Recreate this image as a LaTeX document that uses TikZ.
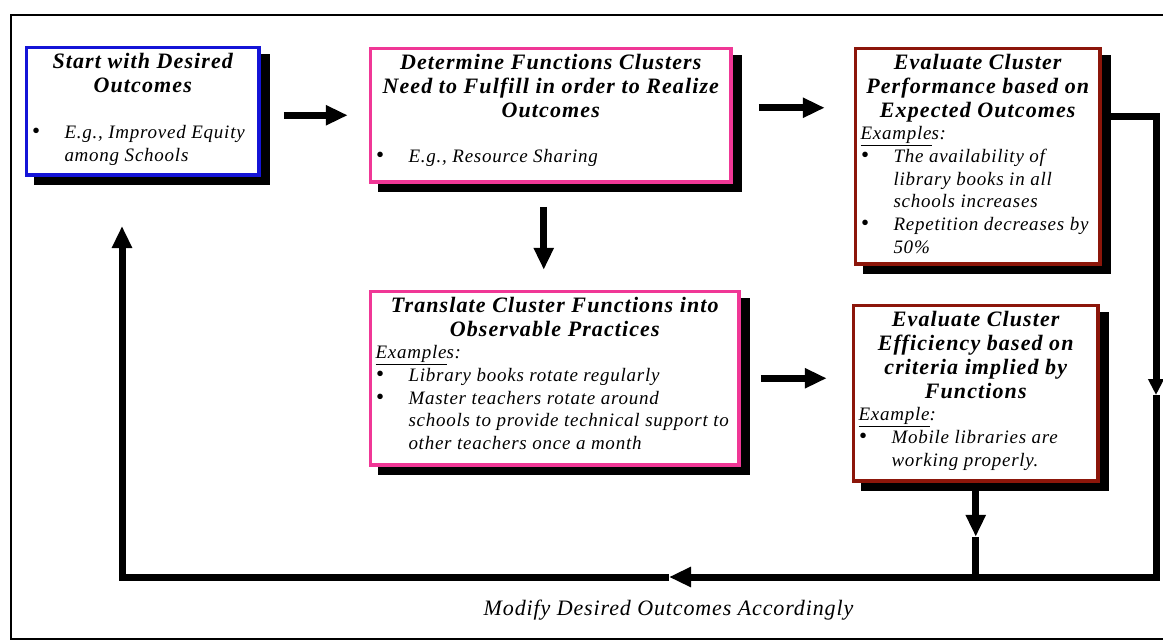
\documentclass[tikz,border=0pt]{standalone}
\usepackage{fontspec}
\setmainfont{Liberation Serif}
\newfontfamily\ttlfont[LetterSpace=5]{Liberation Serif}
\newfontfamily\bodyfont[LetterSpace=4]{Liberation Serif}
\usepackage{xcolor}
\usetikzlibrary{arrows.meta,shadows,calc}
\definecolor{cardblue}{RGB}{20,20,215}
\definecolor{cardpink}{RGB}{240,55,150}
\definecolor{cardbrown}{RGB}{140,22,10}

\newcommand{\cardtitle}[1]{{\centering\ttlfont\bfseries\itshape\fontsize{22}{24}\selectfont\rule{0pt}{17.5pt}#1\par}}
\newcommand{\cardbullet}[1]{{\raggedright\hangindent=33pt\hangafter=1\noindent\makebox[33pt][l]{\hspace{0.5pt}\upshape\fontsize{23}{22}\selectfont\textbullet}#1\par}}
\newcommand{\cardbody}{\bodyfont\itshape\fontsize{19}{22.7}\selectfont}

\begin{document}
\begin{tikzpicture}[x=1pt,y=-1pt,
    card/.style={draw=#1, line width=3.5pt, fill=white, anchor=north west,
        inner xsep=5pt, inner ysep=3pt,
        drop shadow={shadow xshift=9pt, shadow yshift=-8pt, fill=black, draw=black, opacity=1}},
    bigarrow/.style={line width=7pt, -{Triangle[length=22pt,width=19pt]}},
    loopline/.style={line width=7pt}]
    \useasboundingbox (0,0) rectangle (1163,641);
    \draw[line width=2pt] (1163,15) -- (11,15) -- (11,639) -- (1163,639);

    \node[card=cardblue] (start) at (24.75,45.75) {
        \begin{minipage}[t][121.5pt][t]{222.5pt}
            \cardtitle{Start with Desired\\Outcomes}
            \vspace{24pt}
            \cardbody
            \cardbullet{E.g., Improved Equity\newline among Schools}
        \end{minipage}
    };
    \node[card=cardpink] (need) at (368.75,46.75) {
        \begin{minipage}[t][127.5pt][t]{350.5pt}
            \cardtitle{Determine Functions Clusters\\Need to Fulfill in order to Realize\\Outcomes}
            \vspace{23pt}
            \cardbody
            \cardbullet{E.g., Resource Sharing}
        \end{minipage}
    };
    \node[card=cardbrown] (perf) at (853.75,46.75) {
        \begin{minipage}[t][209.5pt][t]{234.5pt}
            \cardtitle{Evaluate Cluster\\Performance based on\\Expected Outcomes}
            \cardbody
            \underline{Example}s:\par
            \cardbullet{The availability of\newline library books in all\newline schools increases}
            \cardbullet{Repetition decreases by\newline 50\%}
        \end{minipage}
    };
    \node[card=cardpink] (practice) at (368.75,289.75) {
        \begin{minipage}[t][167.5pt][t]{358.5pt}
            \cardtitle{Translate Cluster Functions into\\Observable Practices}
            \cardbody
            \underline{Example}s:\par
            \cardbullet{Library books rotate regularly}
            \cardbullet{Master teachers rotate around\newline schools to provide technical support to\newline other teachers once a month}
        \end{minipage}
    };
    \node[card=cardbrown] (effic) at (851.75,303.75) {
        \begin{minipage}[t][169.5pt][t]{234.5pt}
            \cardtitle{Evaluate Cluster\\Efficiency based on\\criteria implied by\\Functions}
            \cardbody
            \underline{Example}:\par
            \cardbullet{Mobile libraries are\newline working properly.}
        \end{minipage}
    };
    \node[anchor=base] (modify) at (668.5,615) {\bodyfont\itshape\fontsize{22}{24}\selectfont Modify Desired Outcomes Accordingly};

    \coordinate (np) at ($(need.east)+(0,-7.5)$);
    \coordinate (dn) at ($(need.south)+(-7,0)$);
    \coordinate (perfout) at ($(perf.east)+(0,-39.5)$);
    \coordinate (rtmid) at (1156,395);
    \coordinate (botmid) at (669,577);
    \coordinate (loopend) at (122,226);
    \coordinate (effmid) at ($(effic.south)+(0,54)$);

    \draw[bigarrow, shorten <=23pt, shorten >=21pt] (start.east |- need.west) -- (need.west);
    \draw[bigarrow, shorten <=26pt, shorten >=29pt] (np) -- (np -| perf.west);
    \draw[bigarrow, shorten <=23pt, shorten >=20pt] (dn) -- (dn |- practice.north);
    \draw[bigarrow, shorten <=20pt, shorten >=25pt] (practice.east) -- (practice.east -| effic.west);

    \draw[loopline, -{Triangle[length=16pt,width=15pt]}] (perfout) -| (rtmid);
    \draw[bigarrow] (rtmid) |- (botmid);
    \draw[bigarrow] (botmid) -| (loopend);
    \draw[bigarrow] (effic.south) -- (effmid);
    \draw[loopline] (effmid) -- (effmid |- botmid);
\end{tikzpicture}
\end{document}
